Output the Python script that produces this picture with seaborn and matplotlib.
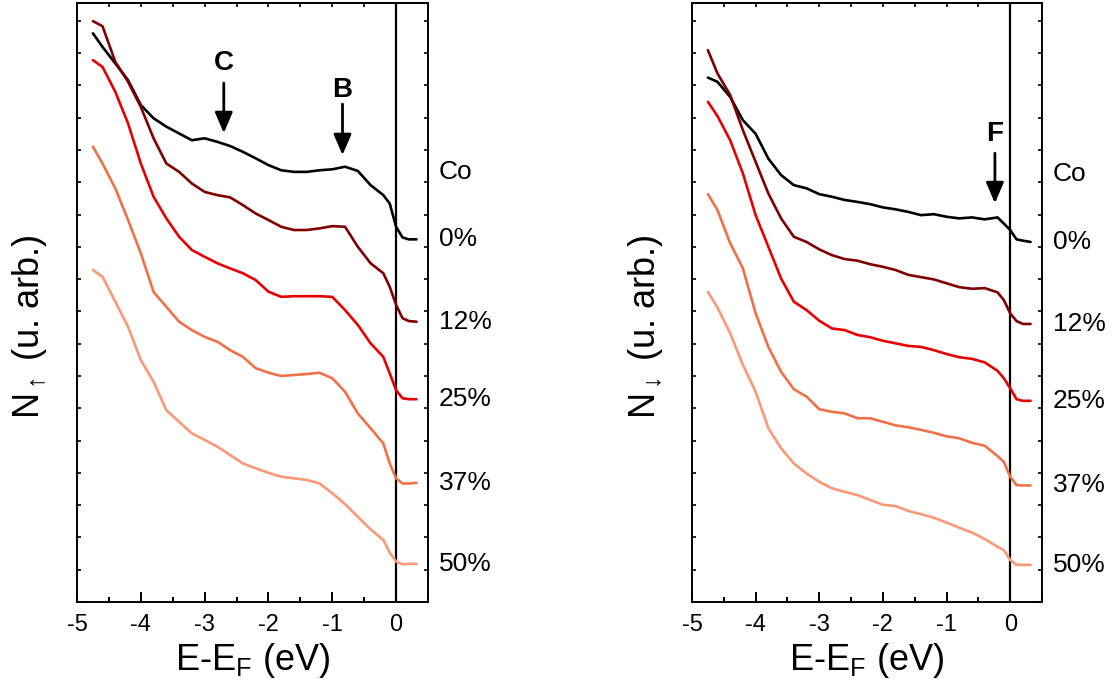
import numpy as np
import pandas as pd
import matplotlib
matplotlib.use("Agg")
import matplotlib.pyplot as plt
from matplotlib.ticker import MultipleLocator
import seaborn as sns

# ---------------- data ----------------
energy = [-4.75, -4.6, -4.4, -4.2, -4.0, -3.8, -3.6, -3.4, -3.2, -3.0, -2.8, -2.6,
          -2.4, -2.2, -2.0, -1.8, -1.6, -1.4, -1.2, -1.0, -0.8, -0.6, -0.4, -0.2,
          -0.1, 0.0, 0.1, 0.2, 0.32]

labels = ["0%", "12%", "25%", "37%", "50%"]
header_label = "Co"

up_0 = [17.61, 17.19, 16.68, 16.16, 15.39, 14.98, 14.72, 14.51, 14.30, 14.36, 14.25, 14.12,
        13.94, 13.74, 13.53, 13.37, 13.32, 13.32, 13.37, 13.40, 13.48, 13.35, 12.91, 12.60,
        12.34, 11.62, 11.29, 11.23, 11.23]
up_12 = [17.99, 17.83, 16.73, 16.11, 15.33, 14.36, 13.58, 13.32, 12.96, 12.70, 12.60, 12.53,
         12.29, 12.03, 11.83, 11.62, 11.52, 11.52, 11.57, 11.64, 11.62, 11.00, 10.49, 10.18,
         9.76, 9.20, 8.79, 8.70, 8.68]
up_25 = [16.78, 16.57, 15.80, 14.82, 13.58, 12.55, 11.88, 11.31, 10.90, 10.69, 10.49, 10.33,
         10.18, 9.97, 9.61, 9.45, 9.47, 9.47, 9.47, 9.45, 9.04, 8.58, 8.01, 7.59,
         7.08, 6.56, 6.31, 6.28, 6.28]
up_37 = [14.10, 13.58, 12.81, 11.83, 10.80, 9.60, 9.14, 8.68, 8.42, 8.21, 8.06, 7.80,
         7.59, 7.24, 7.10, 7.00, 7.03, 7.06, 7.10, 6.93, 6.51, 5.84, 5.38, 4.91,
         4.29, 3.83, 3.67, 3.67, 3.69]
up_50 = [10.28, 10.07, 9.30, 8.52, 7.49, 6.82, 5.94, 5.58, 5.22, 5.02, 4.81, 4.55,
         4.29, 4.14, 4.00, 3.88, 3.83, 3.78, 3.67, 3.37, 3.03, 2.64, 2.25, 1.92,
         1.53, 1.25, 1.17, 1.18, 1.18]

dn_0 = [16.24, 16.11, 15.64, 14.92, 14.50, 13.73, 13.22, 12.91, 12.81, 12.63, 12.55, 12.45,
        12.39, 12.32, 12.22, 12.16, 12.08, 11.98, 12.01, 11.93, 11.88, 11.91, 11.85, 11.91,
        11.72, 11.52, 11.23, 11.19, 11.15]
dn_12 = [17.09, 16.37, 15.70, 14.61, 13.63, 12.65, 11.88, 11.31, 11.15, 10.92, 10.74, 10.62,
         10.57, 10.46, 10.38, 10.28, 10.13, 10.06, 9.99, 9.87, 9.75, 9.70, 9.72, 9.59,
         9.35, 8.94, 8.70, 8.61, 8.61]
dn_25 = [15.49, 15.05, 14.30, 13.27, 11.98, 11.00, 10.02, 9.30, 9.04, 8.71, 8.47, 8.42,
         8.27, 8.20, 8.09, 8.01, 7.93, 7.90, 7.80, 7.68, 7.58, 7.53, 7.42, 7.16,
         6.93, 6.62, 6.28, 6.23, 6.23]
dn_37 = [12.63, 12.14, 11.11, 10.33, 8.94, 7.90, 7.13, 6.59, 6.36, 5.97, 5.89, 5.84,
         5.69, 5.69, 5.58, 5.47, 5.41, 5.33, 5.24, 5.13, 5.07, 4.93, 4.84, 4.52,
         4.34, 3.88, 3.62, 3.61, 3.61]
dn_50 = [9.60, 9.12, 8.32, 7.34, 6.51, 5.38, 4.76, 4.29, 3.98, 3.72, 3.52, 3.41,
         3.31, 3.16, 3.01, 2.97, 2.82, 2.72, 2.61, 2.46, 2.30, 2.15, 1.95, 1.71,
         1.61, 1.30, 1.15, 1.15, 1.15]

xticks = [-5, -4, -3, -2, -1, 0]
xtick_labels = ["-5", "-4", "-3", "-2", "-1", "0"]

# annotations: (label, energy position, arrow tail, arrow head, text y)
up_marks = [("C", -2.70, 16.07, 14.52, 16.69), ("B", -0.84, 15.42, 13.84, 15.86)]
dn_marks = [("F", -0.24, 13.90, 12.35, 14.49)]

colors = ["#000000", "#800000", "#e80000", "#f07048", "#fc9878"]

# ---------------- style ----------------
sns.set_theme(style="ticks")
plt.rcParams["font.family"] = ["Liberation Sans", "DejaVu Sans"]
plt.rcParams["mathtext.fontset"] = "custom"
plt.rcParams["mathtext.rm"] = "Liberation Sans"
plt.rcParams["mathtext.it"] = "Liberation Sans"
plt.rcParams["axes.unicode_minus"] = False
for key in ["text.color", "axes.labelcolor", "xtick.color", "ytick.color", "axes.edgecolor"]:
    plt.rcParams[key] = "black"

fig = plt.figure(figsize=(11.19, 6.97), dpi=100)
ax_up = fig.add_axes([0.0688, 0.1363, 0.3137, 0.8594])
ax_dn = fig.add_axes([0.6184, 0.1363, 0.3128, 0.8594])


def draw_panel(ax, series, marks, ylabel, lab_x):
    for vals, col in zip(series, colors):
        df = pd.DataFrame({"E": energy, "N": vals})
        sns.lineplot(data=df, x="E", y="N", color=col, lw=1.9, ax=ax, sort=False)
    ax.axvline(0, color="black", lw=1.6, zorder=1)
    ax.set_xlim(-5, 0.5)
    ax.set_ylim(0, 18.55)
    ax.set_xticks(xticks)
    ax.set_xticklabels(xtick_labels)
    ax.xaxis.set_minor_locator(MultipleLocator(0.5))
    ax.yaxis.set_major_locator(MultipleLocator(1))
    ax.set_yticklabels([])
    ax.tick_params(axis="x", which="major", direction="in", length=7, width=1.4,
                   labelsize=17, pad=9, top=False, bottom=True, labelcolor="black")
    ax.tick_params(axis="x", which="minor", direction="in", length=3.5, width=1.4,
                   top=False, bottom=True)
    ax.tick_params(axis="y", which="major", direction="in", length=3, width=1.2,
                   left=True, right=True)
    sec = ax.secondary_xaxis("top")
    sec.set_xticks(np.arange(-5, 0.51, 0.5))
    sec.set_xticklabels([])
    sec.tick_params(direction="in", length=3, width=1.2)
    for sp in list(ax.spines.values()) + list(sec.spines.values()):
        sp.set_linewidth(1.4)
        sp.set_color("black")
    ax.set_xlabel("E-E$_\\mathregular{F}$ (eV)", fontsize=26, labelpad=3)
    ax.set_ylabel(ylabel, fontsize=26)
    ax.yaxis.label.set(va="center", ha="center")
    ax.yaxis.set_label_coords(lab_x, 0.46)

    # composition labels at each curve's end level
    tr = ax.get_yaxis_transform()
    for vals, lab in zip(series, labels):
        ax.text(1.03, vals[-1], lab, transform=tr, fontsize=19, ha="left",
                va="center", clip_on=False)
    ax.text(1.03, series[0][-1] + 2.1, header_label, transform=tr, fontsize=19,
            ha="left", va="center", clip_on=False)

    for lab, xe, y0, y1, yt in marks:
        ax.annotate("", xy=(xe, y1), xytext=(xe, y0),
                    arrowprops=dict(arrowstyle="-|>,head_length=0.7,head_width=0.3",
                                    color="black", lw=2, mutation_scale=18,
                                    shrinkA=0, shrinkB=0))
        ax.text(xe, yt, lab, fontsize=20, fontweight="bold", ha="center", va="center")


draw_panel(ax_up, [up_0, up_12, up_25, up_37, up_50], up_marks,
           "N$_{\\uparrow}$ (u. arb.)", -0.134)
draw_panel(ax_dn, [dn_0, dn_12, dn_25, dn_37, dn_50], dn_marks,
           "N$_{\\downarrow}$ (u. arb.)", -0.134)

fig.savefig("out.png", dpi=100)
